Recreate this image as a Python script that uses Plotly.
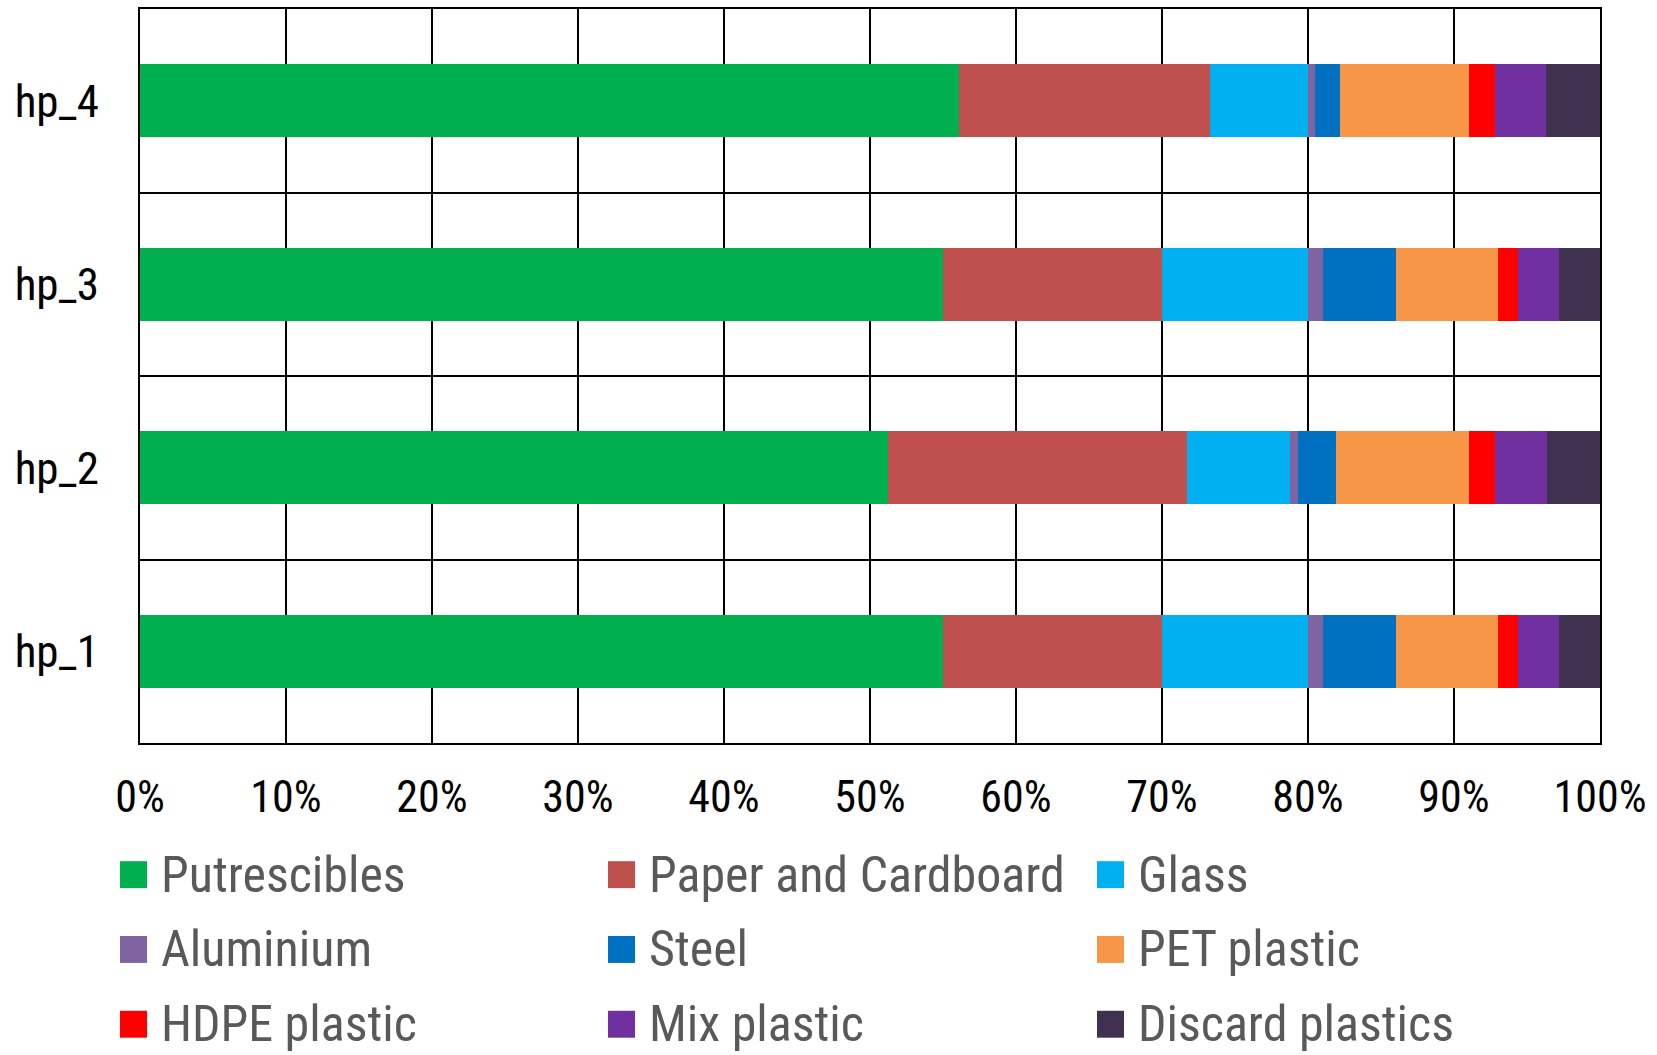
import plotly.graph_objects as go

categories = ["hp_1", "hp_2", "hp_3", "hp_4"]

series_names = ["Putrescibles", "Paper and Cardboard", "Glass",
                "Aluminium", "Steel", "PET plastic",
                "HDPE plastic", "Mix plastic", "Discard plastics"]

putrescibles = [55.0, 51.2, 55.0, 56.1]
paper_cardboard = [15.0, 20.5, 15.0, 17.2]
glass = [10.0, 7.1, 10.0, 6.7]
aluminium = [1.0, 0.5, 1.0, 0.5]
steel = [5.0, 2.6, 5.0, 1.7]
pet_plastic = [7.0, 9.1, 7.0, 8.8]
hdpe_plastic = [1.4, 1.8, 1.4, 1.8]
mix_plastic = [2.8, 3.6, 2.8, 3.5]
discard_plastics = [2.8, 3.6, 2.8, 3.7]

series_values = [putrescibles, paper_cardboard, glass, aluminium, steel,
                 pet_plastic, hdpe_plastic, mix_plastic, discard_plastics]

colors = ["#00B050", "#C0504D", "#00B0F0", "#8064A2", "#0070C0",
          "#F79646", "#FF0000", "#7030A0", "#403151"]

x_ticks = [0, 10, 20, 30, 40, 50, 60, 70, 80, 90, 100]
x_ticktext = [f"{v}%" for v in x_ticks]

FONT = "Liberation Sans Narrow, Arial Narrow, Roboto Condensed, Liberation Sans, Arial, sans-serif"

fig = go.Figure()
for name, vals, col in zip(series_names, series_values, colors):
    fig.add_trace(go.Bar(
        y=categories, x=vals, name=name, orientation="h",
        marker=dict(color=col, line=dict(width=0)),
        showlegend=False,
    ))

W, H = 1657, 1055
ml, mr, mt, mb = 140, 57, 7, 312

fig.update_layout(
    width=W, height=H,
    margin=dict(l=ml, r=mr, t=mt, b=mb),
    barmode="stack", barnorm="percent", bargap=0.6,
    plot_bgcolor="white", paper_bgcolor="white",
    font=dict(family=FONT, size=44, color="black"),
    xaxis=dict(
        range=[0, 100], tickmode="array", tickvals=x_ticks, ticktext=x_ticktext,
        showgrid=True, gridcolor="black", gridwidth=1.5,
        showline=True, linecolor="black", linewidth=2, mirror=True,
        ticks="", ticklabelstandoff=14, zeroline=False,
        tickfont=dict(family=FONT, size=44, color="black"),
    ),
    yaxis=dict(
        type="category", categoryorder="array", categoryarray=categories,
        tickson="boundaries", showgrid=True, gridcolor="black", gridwidth=1.5,
        showline=True, linecolor="black", linewidth=2, mirror=True,
        ticks="", ticklabelstandoff=30,
        tickfont=dict(family=FONT, size=45, color="black"),
    ),
)

# Manual legend (3 columns x 3 rows), sized like the reference
pw = W - ml - mr
ph = H - mt - mb
col_x = [120, 608, 1097]
row_y = [875, 950, 1025]
sq = 27
for i, (name, col) in enumerate(zip(series_names, colors)):
    r, c = divmod(i, 3)
    x0 = col_x[c]
    yc = row_y[r]
    fig.add_shape(
        type="rect", xref="paper", yref="paper",
        x0=(x0 - ml) / pw, x1=(x0 + sq - ml) / pw,
        y0=(H - mb - (yc + sq / 2)) / ph, y1=(H - mb - (yc - sq / 2)) / ph,
        fillcolor=col, line=dict(width=0),
    )
    fig.add_annotation(
        xref="paper", yref="paper",
        x=(x0 + sq + 12 - ml) / pw, y=(H - mb - yc) / ph,
        text=name, showarrow=False, xanchor="left", yanchor="middle",
        font=dict(family=FONT, size=50, color="#595959"),
    )

fig.write_html("out.html")
